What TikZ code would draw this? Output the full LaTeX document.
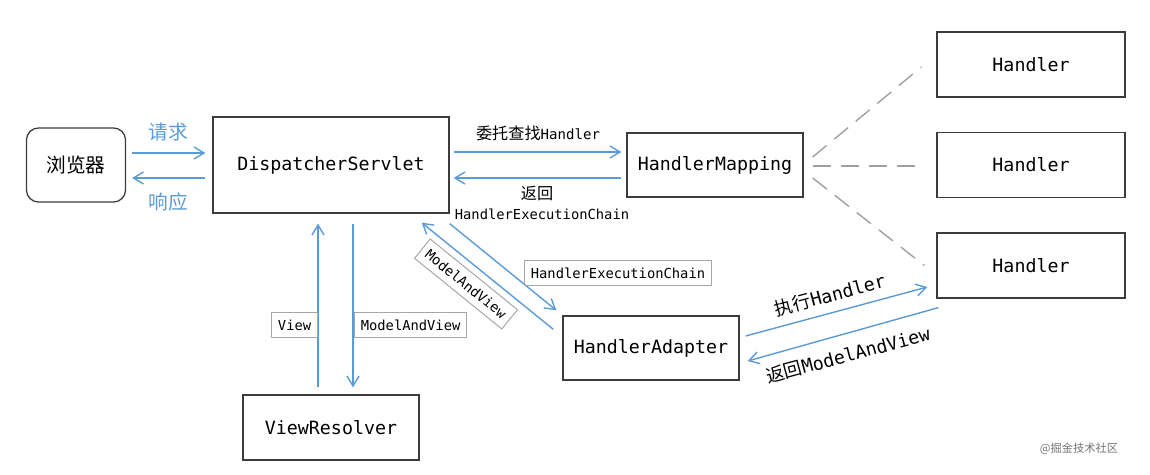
\documentclass[tikz,border=0pt]{standalone}
\usepackage{fontspec}
\setmonofont{DejaVu Sans Mono}
\newfontfamily\cjk{Noto Sans CJK SC}
\usetikzlibrary{arrows.meta,calc}
\definecolor{flowblue}{HTML}{5B9BD5}
\definecolor{boxline}{HTML}{3C3C3C}
\definecolor{tagline}{HTML}{A6A6A6}
\definecolor{dashgray}{HTML}{A0A0A0}
\tikzset{
  comp/.style={draw=boxline, line width=0.9pt, minimum width=44mm, minimum height=16mm,
    font=\fontsize{13}{15}\selectfont\ttfamily},
  handler/.style={comp, minimum width=47mm, minimum height=16.25mm},
  flow/.style={-{Straight Barb[length=2.5mm, width=3mm]}, draw=flowblue, line width=1pt},
  dashlink/.style={draw=dashgray, line width=1pt, dash pattern=on 4.5mm off 2.5mm},
  tag/.style={draw=tagline, line width=0.7pt, inner xsep=4.5pt, minimum height=6.2mm,
    font=\fontsize{9.8}{12}\selectfont\ttfamily},
  lab/.style={font=\fontsize{10}{12}\selectfont\ttfamily},
  biglab/.style={font=\fontsize{13}{15}\selectfont\ttfamily},
}

\begin{document}
\begin{tikzpicture}[x=0.025cm, y=-0.025cm]
\useasboundingbox (0,0) rectangle (1150,474);

% main row: browser, front controller, mapping, handlers
\node[comp, rounded corners=3mm, minimum width=24.75mm, minimum height=18.5mm,
  font=\fontsize{14}{16}\selectfont\cjk] (br) at (76,165) {浏览器};
\node[comp, minimum width=59mm, minimum height=24mm] (ds) at (331,165) {DispatcherServlet};
\node[comp] (hm) at (715,165) {HandlerMapping};
\node[handler] (h1) at (1031,64.5) {Handler};
\node[handler] (h2) at (1031,165) {Handler};
\node[handler] (h3) at (1031,265.5) {Handler};
\node[comp] (ha) at (651,348) {HandlerAdapter};
\node[comp, minimum height=16.25mm] (vr) at (331,427.5) {ViewResolver};

% request and response
\draw[flow] ($(br.east)+(6,-12)$) -- ($(ds.west)+(-7,-12)$);
\draw[flow] ($(ds.west)+(-7,13)$) -- ($(br.east)+(6,13)$);
\node[font=\fontsize{14}{16}\selectfont\cjk, text=flowblue] (req) at (168,132) {请求};
\node[font=\fontsize{14}{16}\selectfont\cjk, text=flowblue] (resp) at (168,202) {响应};

% looking up the handler
\draw[flow] ($(ds.east)+(4,-13)$) -- ($(hm.west)+(-5,-13)$);
\draw[flow] ($(hm.west)+(-5,13)$) -- ($(ds.east)+(4,13)$);
\node[lab] (find) at (538,133) {{\cjk\fontsize{11.5}{14}\selectfont 委托查找}Handler};
\node[font=\fontsize{11.5}{14}\selectfont\cjk] (ret) at (537,193) {返回};
\node[font=\fontsize{9.8}{12}\selectfont\ttfamily] (chain) at (542,214) {HandlerExecutionChain};

% mapping to the handlers
\draw[dashlink] ($(hm.east)+(9,-8)$) -- ($(h1.west)+(-15,2.5)$);
\draw[dashlink] ($(hm.east)+(9,1)$) -- ($(h2.west)+(-13,1)$);
\draw[dashlink] ($(hm.east)+(9,13)$) -- ($(h3.west)+(-12,0)$);

% adapter
\draw[flow] ($(ds.south east)+(0,10)$) -- ($(ha.north west)+(-6,-5)$);
\draw[flow] ($(ha.north west)+(-9,14)$) -- ($(ds.south east)+(-28,9)$);
\node[tag] (t_chain) at (618,273) {HandlerExecutionChain};
\node[tag, rotate=-39] (t_mav) at (466,284) {ModelAndView};

% executing the handler
\draw[flow] ($(ha.east)+(6,-12)$) -- ($(h3.west)+(-9,21.5)$);
\draw[flow] ($(h3.south west)+(2,9)$) -- ($(ha.east)+(8,13)$);
\node[biglab, rotate=15] (exec) at (830,295) {{\cjk 执行}Handler};
\node[biglab, rotate=15] (back) at (848,355) {{\cjk 返回}ModelAndView};

% view resolving
\draw[flow] ($(vr.north)+(-13,-7)$) -- ($(ds.south)+(-13,10)$);
\draw[flow] ($(ds.south)+(22,10)$) -- ($(vr.north)+(22,-7)$);
\node[tag, anchor=east] (t_view) at (318,325) {View};
\node[tag, anchor=west] (t_mav2) at (354,325) {ModelAndView};

\node[font=\fontsize{8}{10}\selectfont\cjk, text=black!55] (mark) at (1079,449) {@掘金技术社区};

\end{tikzpicture}
\end{document}
